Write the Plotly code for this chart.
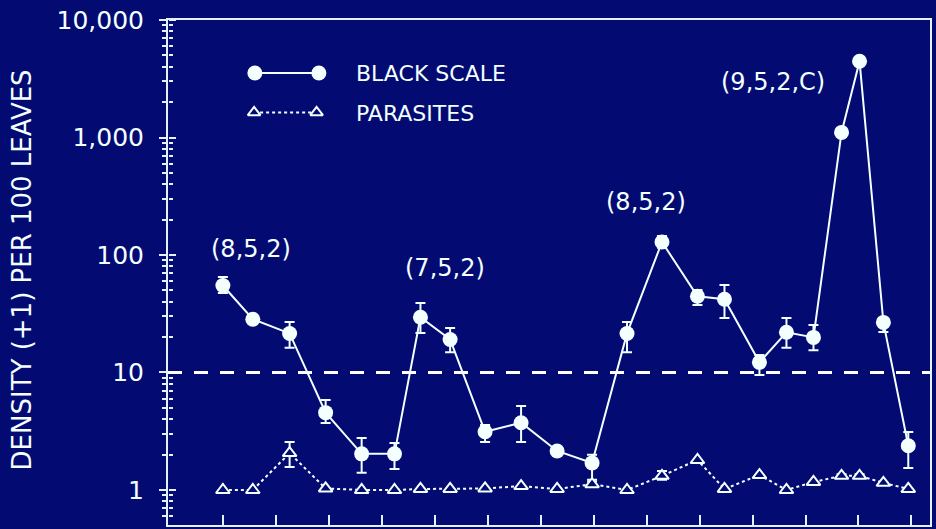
import math
import plotly.graph_objects as go

# Census dates, in months from the first sample
months = [0, 0.565, 1.26, 1.94, 2.62, 3.24, 3.73, 4.29, 4.95, 5.63, 6.31, 6.97,
          7.63, 8.29, 8.96, 9.47, 10.13, 10.64, 11.15, 11.68, 12.02, 12.47, 12.94]

# Black scale density (+1) per 100 leaves, with upper / lower limits
black_scale = [55, 28.4, 21.5, 4.55, 2.03, 2.03, 29.5, 19.1, 3.13, 3.74, 2.15, 1.7,
               21.5, 129, 44.6, 42, 12.2, 22, 19.9, 1105, 4460, 26.7, 2.38]
black_scale_hi = [65, 28.4, 26.9, 5.83, 2.77, 2.51, 39, 23.9, 3.57, 5.19, 2.15, 1.99,
                  26.9, 145, 50.4, 55.6, 14.1, 29.1, 25.4, 1105, 4700, 28, 3.12]
black_scale_lo = [47.5, 28.4, 16.2, 3.72, 1.40, 1.51, 21.7, 14.9, 2.56, 2.56, 2.15, 1.22,
                  14.9, 115, 37.5, 29.1, 9.5, 16.2, 15.5, 1105, 4200, 22.1, 1.54]

# Parasite density (+1) per 100 leaves, with upper / lower limits
parasites = [1.0, 1.0, 2.06, 1.03, 1.0, 1.0, 1.02, 1.02, 1.03, 1.08, 1.02, 1.12,
             1.0, 1.32, 1.8, 1.02, 1.34, 1.0, 1.17, 1.32, 1.32, 1.15, 1.02]
parasites_hi = [1.0, 1.0, 2.56, 1.03, 1.0, 1.0, 1.02, 1.02, 1.03, 1.08, 1.02, 1.18,
                1.0, 1.45, 1.8, 1.02, 1.34, 1.0, 1.17, 1.36, 1.36, 1.15, 1.02]
parasites_lo = [1.0, 1.0, 1.57, 1.03, 1.0, 1.0, 1.02, 1.02, 1.03, 1.08, 1.02, 1.06,
                1.0, 1.22, 1.8, 1.02, 1.34, 1.0, 1.17, 1.28, 1.28, 1.15, 1.02]

threshold = 10

# Spray programme labels: (text, month, density)
program_labels = ["(8,5,2)", "(7,5,2)", "(8,5,2)", "(9,5,2,C)"]
program_x = [0.53, 4.2, 7.98, 10.38]
program_y = [112, 78, 280, 2950]

y_tick_vals = [1, 10, 100, 1000, 10000]
y_tick_text = ["1", "10", "100", "1,000", "10,000"]
x_tick_vals = list(range(14))

NAVY = "#030b72"
WHITE = "#f4ffff"
AXIS = "#e4f2ff"
FONT = "DejaVu Sans"

minor_vals = [m * 10 ** d for d in range(-1, 4) for m in range(2, 10)]

fig = go.Figure()

fig.add_trace(go.Scatter(
    x=months, y=black_scale, mode="lines+markers", name="BLACK SCALE",
    line=dict(color=WHITE, width=2),
    marker=dict(symbol="circle", size=15, color=WHITE),
    error_y=dict(type="data", symmetric=False,
                 array=[h - v for h, v in zip(black_scale_hi, black_scale)],
                 arrayminus=[v - l for l, v in zip(black_scale_lo, black_scale)],
                 color=WHITE, thickness=2, width=5),
    showlegend=False,
))

fig.add_trace(go.Scatter(
    x=months, y=parasites, mode="lines+markers", name="PARASITES",
    line=dict(color=WHITE, width=2, dash="dot"),
    marker=dict(symbol="triangle-up", size=12, color=NAVY,
                line=dict(color=WHITE, width=2)),
    error_y=dict(type="data", symmetric=False,
                 array=[h - v for h, v in zip(parasites_hi, parasites)],
                 arrayminus=[v - l for l, v in zip(parasites_lo, parasites)],
                 color=WHITE, thickness=2, width=5),
    showlegend=False,
))

# Key glyphs drawn on a unit overlay axis
fig.add_trace(go.Scatter(
    x=[0.114, 0.198], y=[0.895, 0.895], xaxis="x2", yaxis="y2", mode="lines+markers",
    line=dict(color=WHITE, width=2), marker=dict(symbol="circle", size=15, color=WHITE),
    showlegend=False, hoverinfo="skip",
))
fig.add_trace(go.Scatter(
    x=[0.113, 0.195], y=[0.817, 0.817], xaxis="x2", yaxis="y2", mode="lines+markers",
    line=dict(color=WHITE, width=2, dash="dot"),
    marker=dict(symbol="triangle-up", size=11, color=NAVY, line=dict(color=WHITE, width=2)),
    showlegend=False, hoverinfo="skip",
))
# Transparent anchor so the inner-tick overlay axis gets drawn
fig.add_trace(go.Scatter(x=[months[0]], y=[black_scale[0]], yaxis="y3",
                         mode="markers", marker=dict(opacity=0),
                         showlegend=False, hoverinfo="skip"))

fig.add_shape(type="line", xref="x domain", x0=0, x1=1, yref="y", y0=threshold, y1=threshold,
              line=dict(color="white", width=3, dash="14px,12px"))

for text, x, y in zip(program_labels, program_x, program_y):
    fig.add_annotation(x=x, y=math.log10(y), text=text, showarrow=False,
                       font=dict(family=FONT, size=24, color=WHITE))

fig.add_annotation(xref="x2", yref="y2", x=0.244, y=0.895, xanchor="left", text="BLACK SCALE",
                   showarrow=False, font=dict(family=FONT, size=22, color=WHITE))
fig.add_annotation(xref="x2", yref="y2", x=0.244, y=0.814, xanchor="left", text="PARASITES",
                   showarrow=False, font=dict(family=FONT, size=22, color=WHITE))
fig.add_annotation(xref="paper", yref="paper", x=-0.191, y=0.505, xanchor="center",
                   yanchor="middle", textangle=-90,
                   text="DENSITY (+1) PER 100 LEAVES", showarrow=False,
                   font=dict(family=FONT, size=26, color=WHITE))

x_range = [-1.036, 13.35]
y_range = [-0.298, 4.0]
fig.update_layout(
    width=936, height=529,
    margin=dict(l=168, r=4, t=20, b=4),
    paper_bgcolor=NAVY, plot_bgcolor=NAVY,
    font=dict(family=FONT, color=WHITE),
    xaxis=dict(range=x_range, showgrid=False, zeroline=False,
               showline=True, linecolor=AXIS, linewidth=2, mirror=True,
               tickvals=x_tick_vals, ticks="inside", ticklen=10, tickwidth=2,
               tickcolor=AXIS, showticklabels=False),
    yaxis=dict(type="log", range=y_range, showgrid=False, zeroline=False,
               showline=True, linecolor=AXIS, linewidth=2, mirror=True,
               tickvals=y_tick_vals, ticktext=y_tick_text, ticks="outside",
               ticklen=7, tickwidth=2, tickcolor=AXIS, ticklabelstandoff=10,
               tickfont=dict(family=FONT, size=25, color=WHITE),
               minor=dict(tickvals=minor_vals, ticks="outside", ticklen=4,
                          tickwidth=2, tickcolor=AXIS, showgrid=False)),
    # inner half of the y ticks: a right-side axis pinned to the left edge
    yaxis3=dict(type="log", range=y_range, overlaying="y", anchor="free", position=0,
                side="right", showgrid=False, zeroline=False, showline=False,
                tickvals=y_tick_vals, ticks="outside", ticklen=7, tickwidth=2,
                tickcolor=AXIS, showticklabels=False,
                minor=dict(tickvals=minor_vals, ticks="outside", ticklen=4,
                           tickwidth=2, tickcolor=AXIS, showgrid=False)),
    xaxis2=dict(range=[0, 1], overlaying="x", anchor="y2", visible=False),
    yaxis2=dict(range=[0, 1], overlaying="y", anchor="x2", visible=False),
)

fig.write_html("out.html")
